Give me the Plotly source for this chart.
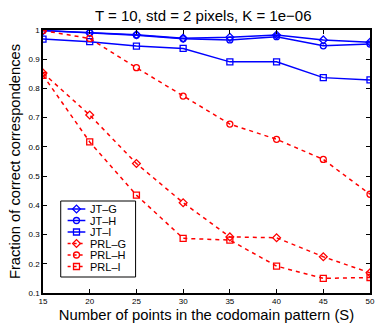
import plotly.graph_objects as go

S = [15, 20, 25, 30, 35, 40, 45, 50]
jt_g = [0.998, 0.991, 0.984, 0.972, 0.975, 0.983, 0.966, 0.958]
jt_h = [0.998, 0.990, 0.982, 0.970, 0.966, 0.977, 0.946, 0.952]
jt_i = [0.969, 0.960, 0.945, 0.937, 0.891, 0.891, 0.837, 0.829]
prl_g = [0.853, 0.709, 0.543, 0.409, 0.292, 0.289, 0.224, 0.169]
prl_h = [0.998, 0.971, 0.871, 0.774, 0.678, 0.626, 0.557, 0.438]
prl_i = [0.845, 0.617, 0.435, 0.287, 0.281, 0.192, 0.150, 0.153]
names = ["JT\u2013G", "JT\u2013H", "JT\u2013I", "PRL\u2013G", "PRL\u2013H", "PRL\u2013I"]

series = [
    (names[0], jt_g, "blue", "solid", "diamond-open"),
    (names[1], jt_h, "blue", "solid", "circle-open"),
    (names[2], jt_i, "blue", "solid", "square-open"),
    (names[3], prl_g, "red", "4px,4px", "diamond-open"),
    (names[4], prl_h, "red", "4px,4px", "circle-open"),
    (names[5], prl_i, "red", "4px,4px", "square-open"),
]

W, H = 378, 329
L, R, T, B = 43, 3, 30, 36

fig = go.Figure()
for name, vals, col, dash, sym in series:
    fig.add_trace(go.Scatter(
        x=S, y=vals, name=name, mode="lines+markers", showlegend=False,
        line=dict(color=col, width=1.5, dash=dash),
        marker=dict(symbol=sym, size=6, color=col, line=dict(color=col, width=1.3)),
    ))

# Custom compact legend (overlay axis in pixel units of the plot area)
leg_box = dict(x0=61, x1=137, y0=201, y1=277)
leg_row0, leg_step = 209, 11.5
leg_line_x = (68, 86)
leg_text_x = 89
shapes = [dict(type="rect", xref="x2", yref="y2",
               x0=leg_box["x0"], x1=leg_box["x1"], y0=leg_box["y0"], y1=leg_box["y1"],
               line=dict(color="black", width=1), fillcolor="white", layer="below")]
annotations = []
for i, (name, vals, col, dash, sym) in enumerate(series):
    yy = leg_row0 + i * leg_step
    fig.add_trace(go.Scatter(
        x=[leg_line_x[0], (leg_line_x[0] + leg_line_x[1]) / 2, leg_line_x[1]], y=[yy, yy, yy],
        xaxis="x2", yaxis="y2", mode="lines", showlegend=False, hoverinfo="skip",
        line=dict(color=col, width=1.5, dash="3px,3px" if dash != "solid" else "solid"),
    ))
    fig.add_trace(go.Scatter(
        x=[(leg_line_x[0] + leg_line_x[1]) / 2], y=[yy],
        xaxis="x2", yaxis="y2", mode="markers", showlegend=False, hoverinfo="skip",
        marker=dict(symbol=sym, size=6, color=col, line=dict(color=col, width=1.3)),
    ))
    annotations.append(dict(x=leg_text_x, y=yy, xref="x2", yref="y2", text=name,
                            showarrow=False, xanchor="left", yanchor="middle",
                            font=dict(family="Liberation Sans, Arial, sans-serif", size=11, color="black")))

font = "Liberation Sans, Arial, Helvetica, sans-serif"
axis_common = dict(
    showline=True, linecolor="black", linewidth=1.5, mirror="ticks",
    ticks="inside", ticklen=4, tickcolor="black", tickwidth=1,
    showgrid=False, zeroline=False,
    tickfont=dict(family=font, size=8, color="black"),
)
fig.update_layout(
    width=W, height=H,
    margin=dict(l=L, r=R, t=T, b=B),
    paper_bgcolor="white", plot_bgcolor="white",
    title=dict(text="T = 10, std = 2 pixels, K = 1e\u221206", xref="paper", x=0.49, xanchor="center",
               yref="container", y=0.951, yanchor="middle",
               font=dict(family=font, size=15, color="black")),
    xaxis=dict(range=[15, 50], tickvals=S, ticktext=[str(s) for s in S],
               title=dict(text="Number of points in the codomain pattern (S)", standoff=4,
                          font=dict(family=font, size=14.8, color="black")),
               **axis_common),
    yaxis=dict(range=[0.1, 1.0], tickvals=[0.1, 0.2, 0.3, 0.4, 0.5, 0.6, 0.7, 0.8, 0.9, 1.0],
               ticktext=["0.1", "0.2", "0.3", "0.4", "0.5", "0.6", "0.7", "0.8", "0.9", "1"],
               title=dict(text="Fraction of correct correspondences", standoff=4,
                          font=dict(family=font, size=14.7, color="black")),
               **axis_common),
    xaxis2=dict(overlaying="x", range=[L, W - R], visible=False, fixedrange=True),
    yaxis2=dict(overlaying="y", range=[H - B, T], visible=False, fixedrange=True),
    shapes=shapes,
    annotations=annotations,
    showlegend=False,
)
fig.write_html("out.html")
